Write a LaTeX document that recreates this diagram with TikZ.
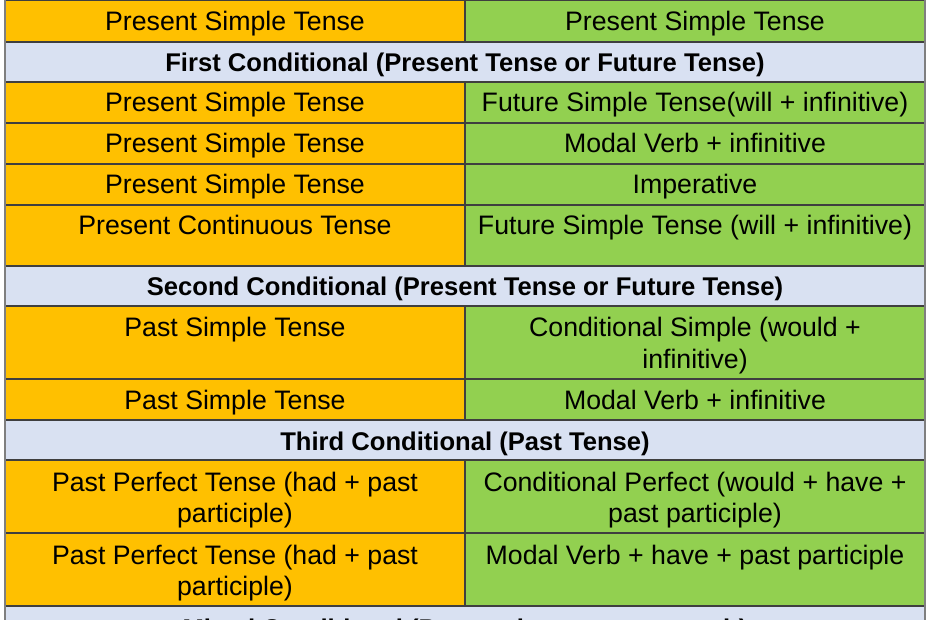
\documentclass[tikz,border=0pt]{standalone}
\usepackage{fontspec}
\setmainfont{Liberation Sans}
\definecolor{orng}{HTML}{FFC000}
\definecolor{grn}{HTML}{92D050}
\definecolor{hblue}{HTML}{D9E1F2}
\definecolor{gline}{HTML}{3F3F3F}
\definecolor{oline}{HTML}{7F7F7F}
\begin{document}
\begin{tikzpicture}[x=1pt,y=-1pt,
  txt/.style={anchor=base,inner sep=0pt,font=\fontsize{26.7}{32}\selectfont},
  hdr/.style={anchor=base,inner sep=0pt,font=\fontsize{25.6}{32}\selectfont\bfseries},
  grid/.style={draw=gline,line width=1.3pt},
  outer/.style={draw=oline,line width=1.8pt}]
\useasboundingbox (0,0) rectangle (930,620);
\clip (0,0) rectangle (930,620);
% data rows: fills
\foreach \t/\b in {0/42,82/123,123/164,164/205,205/266,306/379,379/420,460/533,533/606}{
  \fill[orng] (5,\t) rectangle (465,\b);
  \fill[grn] (465,\t) rectangle (925,\b);
  \draw[grid] (465,\t) -- (465,\b);
}
% header rows
\foreach \t/\b in {42/82,266/306,420/460,606/646}{
  \fill[hblue] (5,\t) rectangle (925,\b);
}
% horizontal lines
\foreach \y in {0.8,42,82,123,164,205,266,306,379,420,460,533,606}{
  \draw[grid] (5,\y) -- (925,\y);
}
\draw[outer] (5,0) -- (5,646);
\draw[outer] (925,0) -- (925,646);
% texts
\node[txt] (c0l) at (235,31) {Present Simple Tense};
\node[txt] (c0r) at (695,31) {Present Simple Tense};
\node[hdr] (h1) at (465,72) {First Conditional (Present Tense or Future Tense)};
\node[txt] (c2l) at (235,112) {Present Simple Tense};
\node[txt] (c2r) at (695,112) {Future Simple Tense(will + infinitive)};
\node[txt] (c3l) at (235,153) {Present Simple Tense};
\node[txt] (c3r) at (695,153) {Modal Verb + infinitive};
\node[txt] (c4l) at (235,194) {Present Simple Tense};
\node[txt] (c4r) at (695,194) {Imperative};
\node[txt] (c5l) at (235,235) {Present Continuous Tense};
\node[txt] (c5r) at (695,235) {Future Simple Tense (will + infinitive)};
\node[hdr] (h6) at (465,296) {Second Conditional (Present Tense or Future Tense)};
\node[txt] (c7l) at (235,337) {Past Simple Tense};
\node[txt] (c7r) at (695,337) {\begin{tabular}[t]{@{}c@{}}Conditional Simple (would +\\ infinitive)\end{tabular}};
\node[txt] (c8l) at (235,410) {Past Simple Tense};
\node[txt] (c8r) at (695,410) {Modal Verb + infinitive};
\node[hdr] (h9) at (465,450) {Third Conditional (Past Tense)};
\node[txt] (c10l) at (235,491) {\begin{tabular}[t]{@{}c@{}}Past Perfect Tense (had + past\\ participle)\end{tabular}};
\node[txt] (c10r) at (695,491) {\begin{tabular}[t]{@{}c@{}}Conditional Perfect (would + have +\\ past participle)\end{tabular}};
\node[txt] (c11l) at (235,564) {\begin{tabular}[t]{@{}c@{}}Past Perfect Tense (had + past\\ participle)\end{tabular}};
\node[txt] (c11r) at (695,564) {Modal Verb + have + past participle};
\node[hdr] (h12) at (465,637) {Mixed Conditional (Past action, present result)};
\end{tikzpicture}
\end{document}
